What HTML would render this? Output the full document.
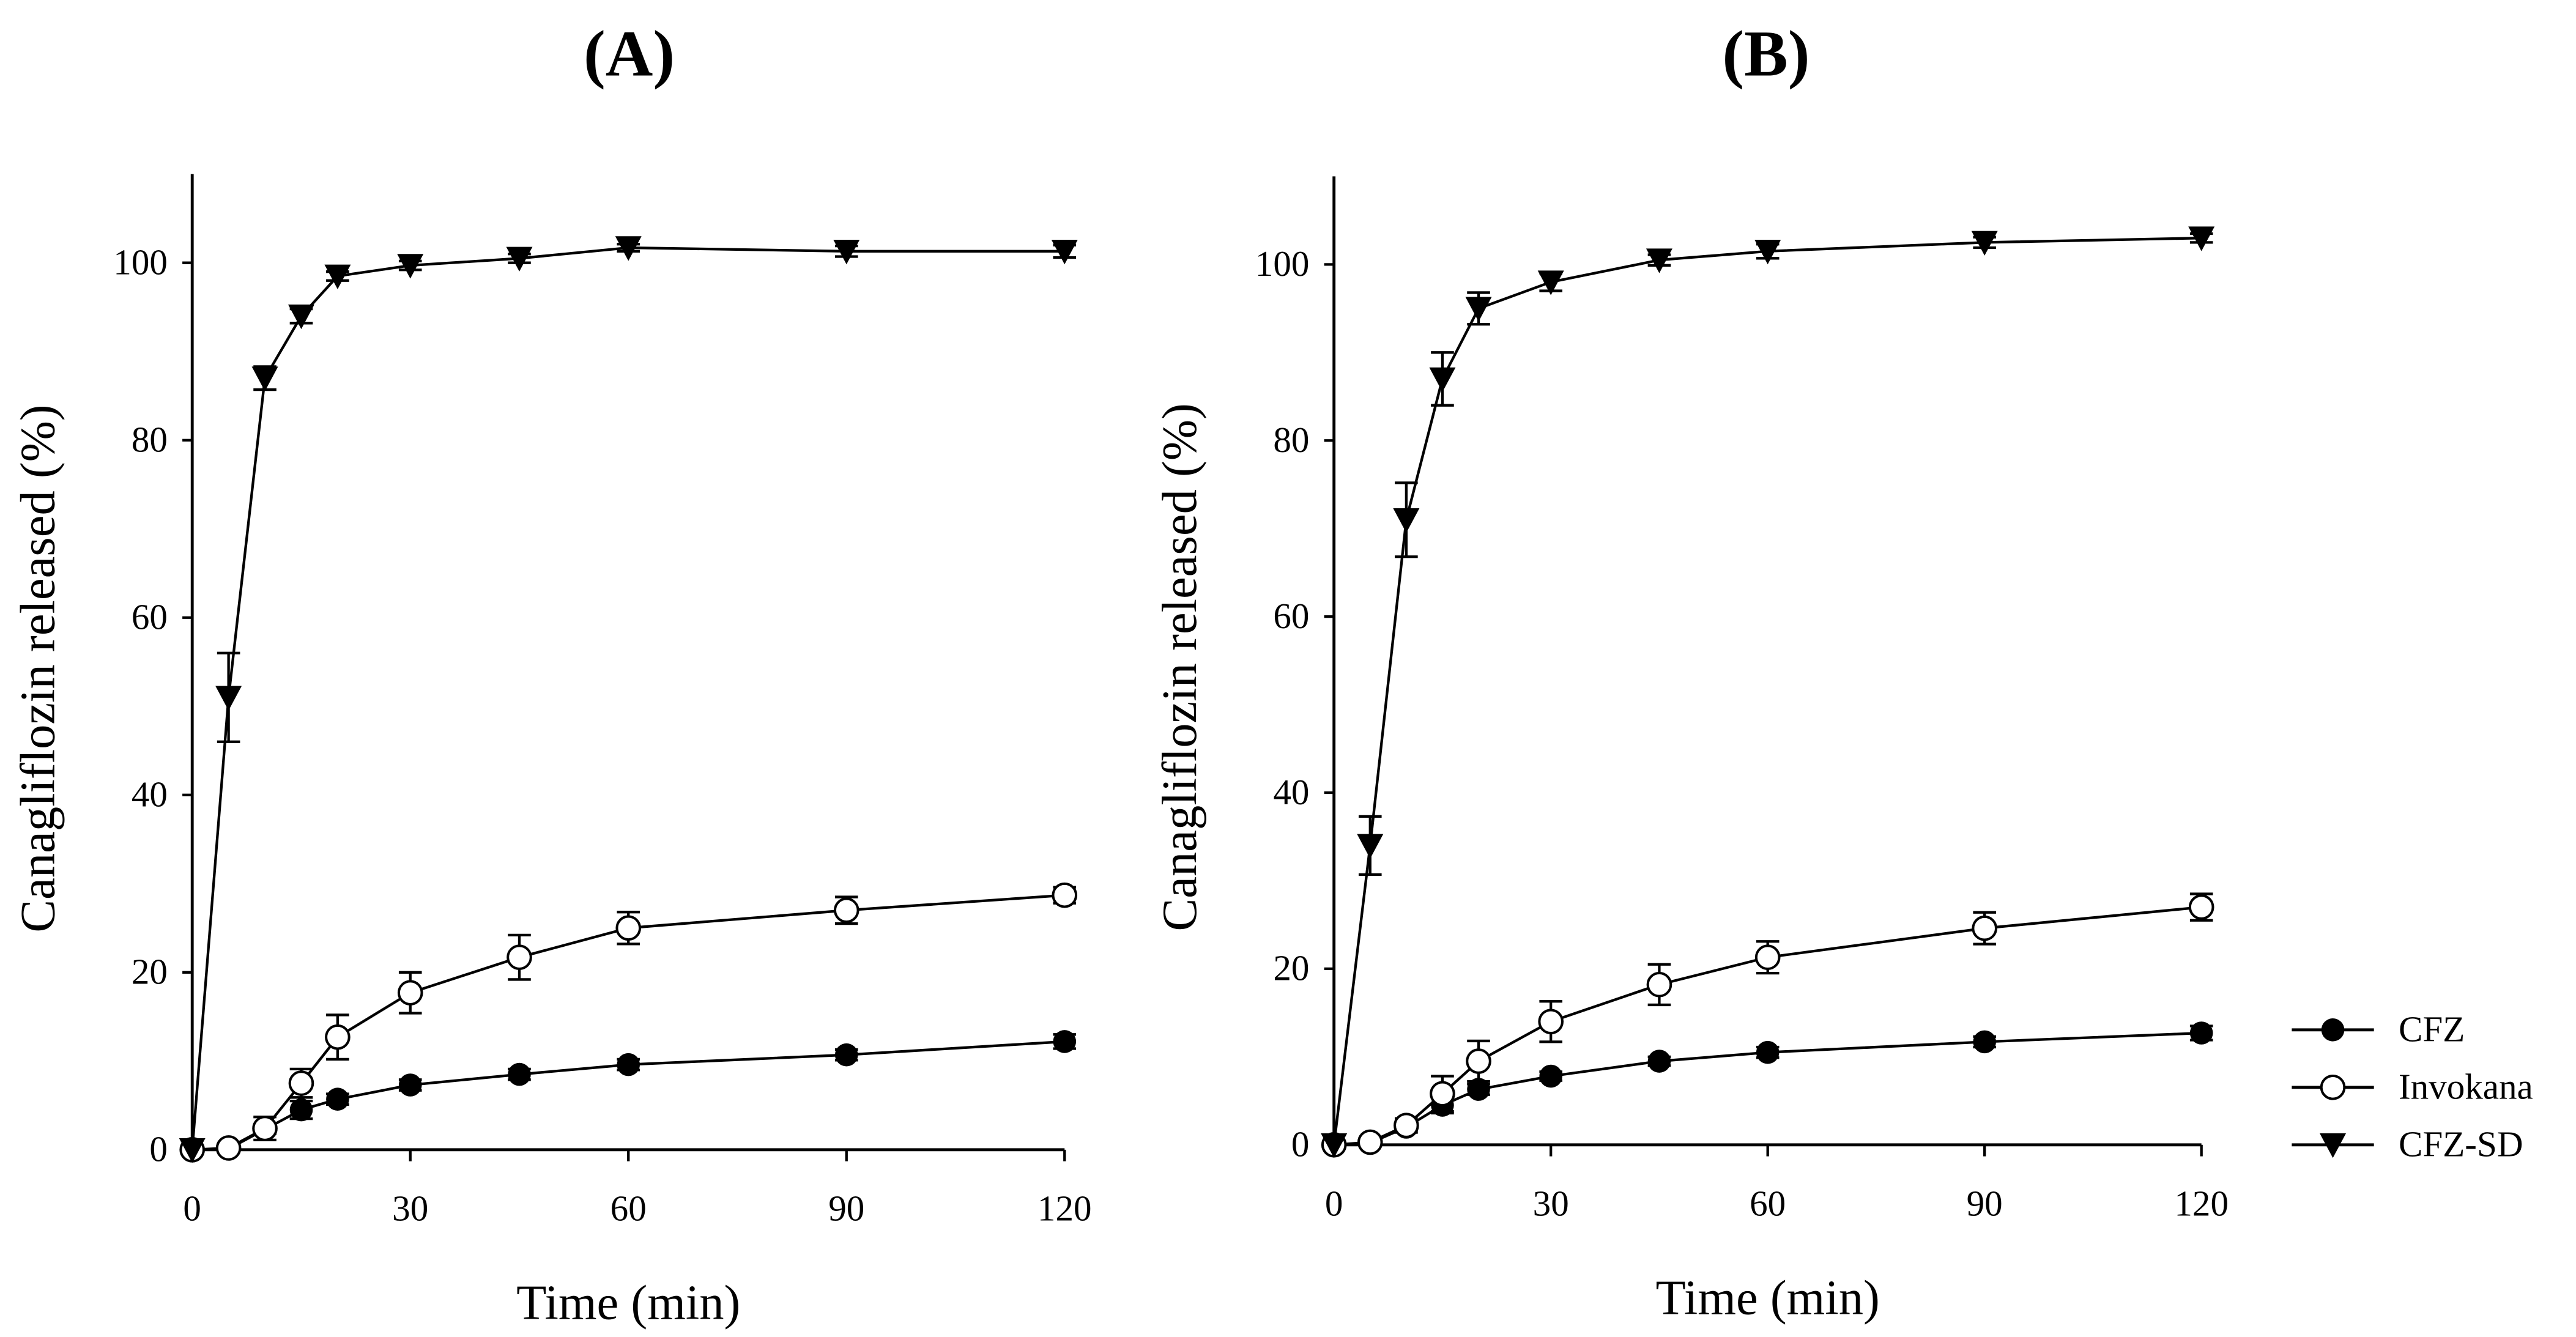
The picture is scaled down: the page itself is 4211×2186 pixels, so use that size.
<!DOCTYPE html>
<html><head><meta charset="utf-8"><style>
html,body{margin:0;padding:0;background:#fff;}
svg{display:block;}
text{font-family:"Liberation Serif",serif;fill:#000;}
</style></head><body>
<svg id="fig" width="4211" height="2186" viewBox="0 0 1568 814" preserveAspectRatio="none" xmlns="http://www.w3.org/2000/svg">
<rect width="1568" height="814" fill="#fff"/>
</svg>
<script>
const times=[0,5,10,15,20,30,45,60,90,120];
const xTicks=[0,30,60,90,120];
const yTicks=[0,20,40,60,80,100];
const aCFZ=[0,0.1,2.3,4.5,5.7,7.3,8.5,9.6,10.7,12.2];
const aCFZErr=[0,0,0.5,1,0.6,0.6,0.6,0.6,0.6,0.8];
const aInv=[0,0.2,2.4,7.5,12.7,17.7,21.7,25,27,28.7];
const aInvErr=[0,0,1.3,1.6,2.5,2.3,2.5,1.8,1.5,0.9];
const aSD=[0,51,87,94,98.5,99.7,100.5,101.7,101.3,101.3];
const aSDErr=[0,5,1.3,0.8,0.5,0.5,0.5,0.4,0.6,0.7];
const bCFZ=[0,0.2,2,4.5,6.3,7.8,9.5,10.5,11.7,12.7];
const bCFZErr=[0,0,0.5,0.9,0.6,0.5,0.5,0.6,0.6,0.8];
const bInv=[0,0.3,2.2,5.8,9.5,14,18.2,21.3,24.6,27];
const bInvErr=[0,0.3,0.8,2,2.3,2.3,2.3,1.8,1.8,1.5];
const bSD=[0,34,71,87,95,98,100.5,101.5,102.5,103];
const bSDErr=[0,3.3,4.2,3,1.8,1,0.6,0.8,0.6,0.5];

const NS="http://www.w3.org/2000/svg";
const svg=document.getElementById('fig');
function mk(tag,attrs,parent){const e=document.createElementNS(NS,tag);for(const k in attrs)e.setAttribute(k,attrs[k]);(parent||svg).appendChild(e);return e;}

function panel(id,x0,x120,y0,y100,title,titleX,series){
  const g=mk('g',{});
  
  
  const X=v=>x0+(x120-x0)*v/120;
  const Y=v=>y0-(y0-y100)*v/100;
  const t=mk('text',{x:titleX,y:46,'font-size':40,'font-weight':'bold','text-anchor':'middle'},g);
  t.textContent=title;
  
  
  const ya=mk('line',{x1:x0,y1:Y(110),x2:x0,y2:y0,stroke:'#000','stroke-width':1.8},g);
  
  
  const xa=mk('line',{x1:x0,y1:y0,x2:x120,y2:y0,stroke:'#000','stroke-width':1.8},g);
  
  
  yTicks.forEach(v=>{
    mk('line',{x1:x0-6,y1:Y(v),x2:x0,y2:Y(v),stroke:'#000','stroke-width':1.6},g);
    const l=mk('text',{x:x0-15,y:Y(v)+7,'font-size':22,'text-anchor':'end'},g);
    l.textContent=v;
    
    
  });
  xTicks.forEach(v=>{
    mk('line',{x1:X(v),y1:y0,x2:X(v),y2:y0+7,stroke:'#000','stroke-width':1.6},g);
    const l=mk('text',{x:X(v),y:y0+43,'font-size':22,'text-anchor':'middle'},g);
    l.textContent=v;
    
    
  });
  const xt=mk('text',{x:(x0+x120)/2,y:y0+103,'font-size':30,'text-anchor':'middle'},g);
  xt.textContent='Time (min)';
  
  
  const cy=(y0+Y(110))/2;
  const yt=mk('text',{x:0,y:0,'font-size':30,'text-anchor':'middle',transform:`translate(${x0-84},${cy+4}) rotate(-90)`},g);
  yt.textContent='Canagliflozin released (%)';
  
  
  series.forEach(s=>{
    const sg=mk('g',{},g);
    
    
    const pts=times.map((tt,i)=>X(tt)+','+Y(s.vals[i])).join(' ');
    mk('polyline',{points:pts,fill:'none',stroke:'#000','stroke-width':1.6},sg);
    times.forEach((tt,i)=>{
      const e=s.err[i];
      if(e>0){
        const px=X(tt);
        mk('line',{x1:px,y1:Y(s.vals[i]-e),x2:px,y2:Y(s.vals[i]+e),stroke:'#000','stroke-width':1.6},sg);
        mk('line',{x1:px-7,y1:Y(s.vals[i]+e),x2:px+7,y2:Y(s.vals[i]+e),stroke:'#000','stroke-width':1.6},sg);
        mk('line',{x1:px-7,y1:Y(s.vals[i]-e),x2:px+7,y2:Y(s.vals[i]-e),stroke:'#000','stroke-width':1.6},sg);
      }
    });
    times.forEach((tt,i)=>{
      const m=marker(s.kind,X(tt),Y(s.vals[i]),sg);
      
      
    });
  });
}
function marker(kind,x,y,p){
  if(kind==='tri') return mk('polygon',{points:`${x-8},${y-7} ${x+8},${y-7} ${x},${y+8}`,fill:'#000'},p);
  if(kind==='open') return mk('circle',{cx:x,cy:y,r:7,fill:'#fff',stroke:'#000','stroke-width':1.5},p);
  return mk('circle',{cx:x,cy:y,r:7,fill:'#000'},p);
}
panel('a',117,648,700,160,'(A)',383,[
  {name:'cfz',vals:aCFZ,err:aCFZErr,kind:'fill'},
  {name:'invokana',vals:aInv,err:aInvErr,kind:'open'},
  {name:'cfz-sd',vals:aSD,err:aSDErr,kind:'tri'}]);
panel('b',812,1340,697,161,'(B)',1075,[
  {name:'cfz',vals:bCFZ,err:bCFZErr,kind:'fill'},
  {name:'invokana',vals:bInv,err:bInvErr,kind:'open'},
  {name:'cfz-sd',vals:bSD,err:bSDErr,kind:'tri'}]);

const legNames=['CFZ','Invokana','CFZ-SD'];
const legKinds=['fill','open','tri'];
const lg=mk('g',{});


legNames.forEach((n,i)=>{
  const y=627+i*35;
  const eg=mk('g',{},lg);
  
  
  mk('line',{x1:1395,y1:y,x2:1445,y2:y,stroke:'#000','stroke-width':1.8},eg);
  marker(legKinds[i],1420,y,eg);
  const t=mk('text',{x:1460,y:y+7,'font-size':22},eg);
  t.textContent=n;
});
</script>
</body></html>
